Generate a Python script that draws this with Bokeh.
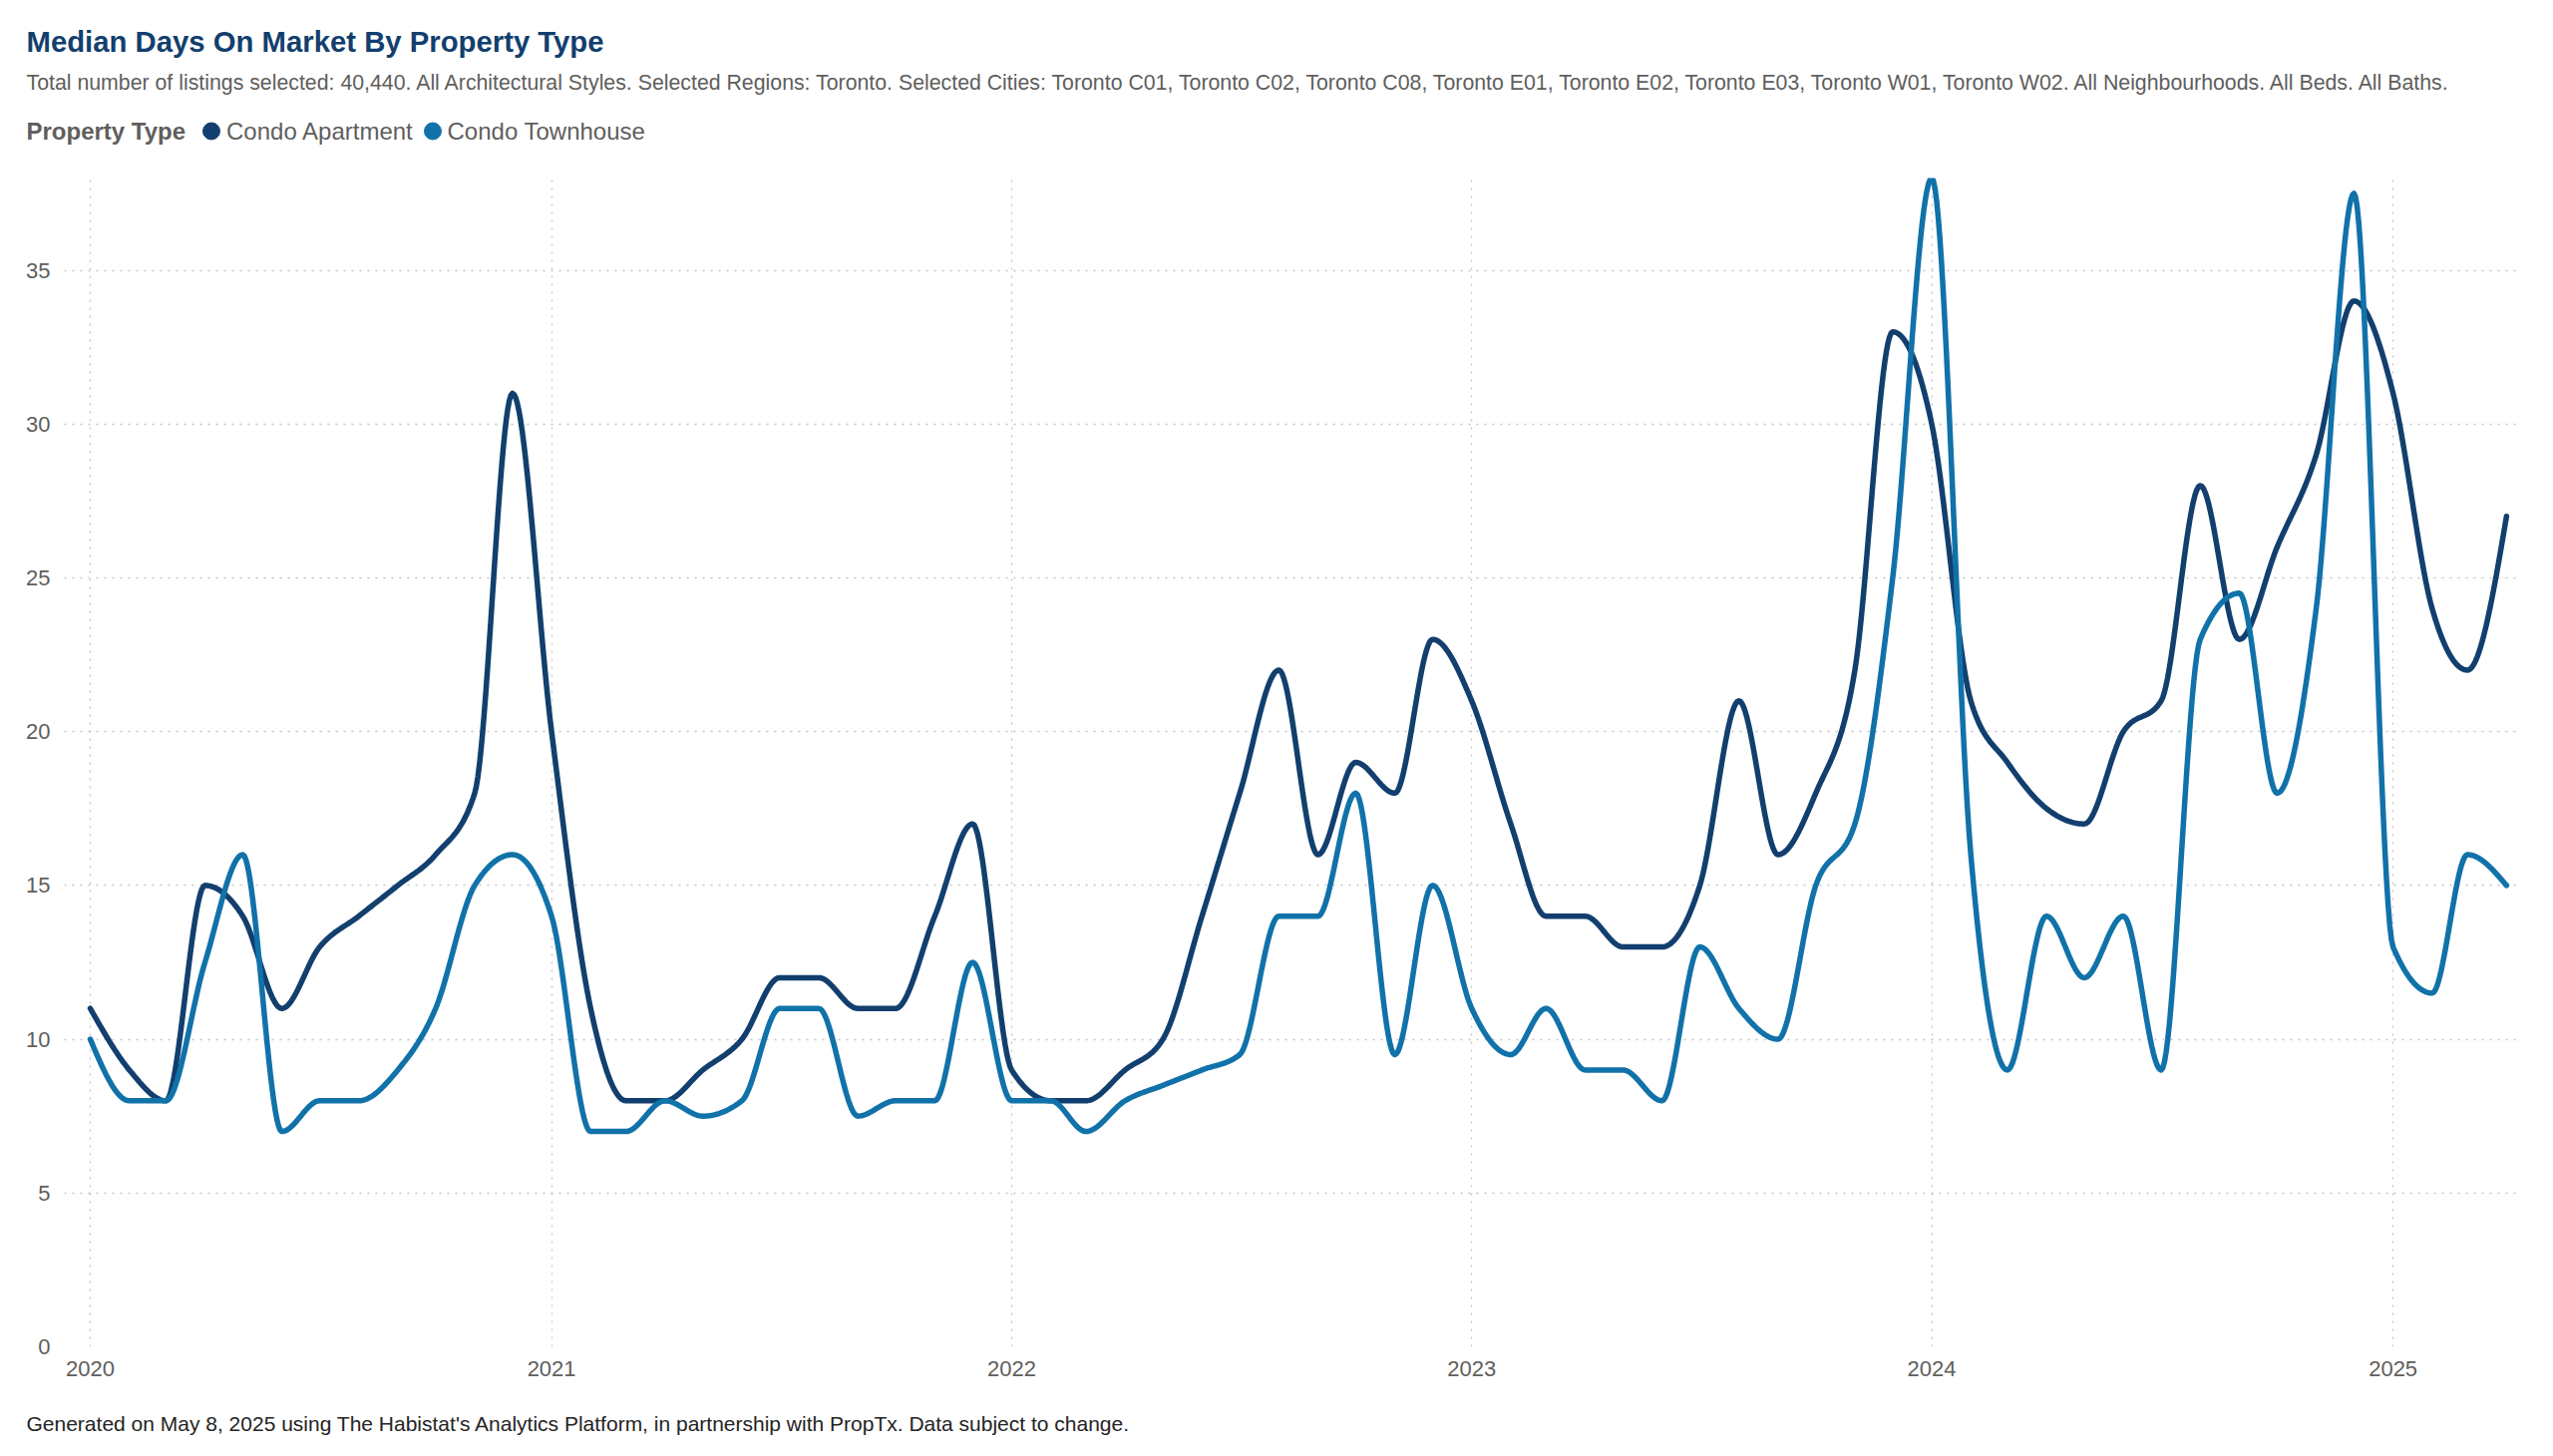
import numpy as np
import pandas as pd
from datetime import datetime
from bokeh.plotting import figure
from bokeh.models import Range1d, FixedTicker, DatetimeTickFormatter, ColumnDataSource
from bokeh.core.properties import value
from bokeh.embed import file_html
from bokeh.resources import INLINE

# ---------------- data ----------------
months = pd.date_range("2020-01-01", "2025-04-01", freq="MS")

condo_apartment = [
    11, 9, 8, 15, 14, 11, 13, 14, 15, 16, 18, 31,          # 2020
    20, 11, 8, 8, 9, 10, 12, 12, 11, 11, 14, 17,           # 2021
    9, 8, 8, 9, 10, 14, 18, 22, 16, 19, 18, 23,            # 2022
    21, 17, 14, 14, 13, 13, 15, 21, 16, 18, 22, 33,        # 2023
    30, 21, 19, 17.5, 17, 20, 21, 28, 23, 26, 29, 34,      # 2024
    31, 24, 22, 27,                                        # 2025
]
condo_townhouse = [
    10, 8, 8, 12.5, 16, 7, 8, 8, 9, 11, 15, 16,            # 2020
    14, 7, 7, 8, 7.5, 8, 11, 11, 7.5, 8, 8, 12.5,          # 2021
    8, 8, 7, 8, 8.5, 9, 9.5, 14, 14, 18, 9.5, 15,          # 2022
    11, 9.5, 11, 9, 9, 8, 13, 11, 10, 15, 17, 25,          # 2023
    38, 16, 9, 14, 12, 14, 9, 23, 24.5, 18, 24, 37.5,      # 2024
    13, 11.5, 16, 15,                                      # 2025
]
series_names = ["Condo Apartment", "Condo Townhouse"]
series_colors = ["#123F6E", "#1172A9"]
year_ticks = [datetime(y, 1, 1) for y in range(2020, 2026)]
y_ticks = [0, 5, 10, 15, 20, 25, 30, 35]

legend_title = "Property Type"
title_text = "Median Days On Market By Property Type"
subtitle_text = ("Total number of listings selected: 40,440. All Architectural Styles. "
                 "Selected Regions: Toronto. Selected Cities: Toronto C01, Toronto C02, "
                 "Toronto C08, Toronto E01, Toronto E02, Toronto E03, Toronto W01, "
                 "Toronto W02. All Neighbourhoods. All Beds. All Baths.")
footer_text = ("Generated on May 8, 2025 using The Habistat's Analytics Platform, "
               "in partnership with PropTx. Data subject to change.")

FONT = "Liberation Sans"
GRAY = "#605E5C"
W = 2550
HEAD_H = 170
MAIN_H = 1232
FOOT_H = 48


def smooth_monotone(xs, ys, n=24):
    """Monotone cubic (d3 curveMonotoneX style) rendering of a series."""
    x = np.asarray(xs, dtype=float)
    y = np.asarray(ys, dtype=float)
    h = np.diff(x)
    s = np.diff(y) / h
    m = len(x)
    t = np.zeros(m)
    for i in range(1, m - 1):
        h0, h1, s0, s1 = h[i - 1], h[i], s[i - 1], s[i]
        p = (s0 * h1 + s1 * h0) / (h0 + h1)
        sg0 = -1.0 if s0 < 0 else 1.0
        sg1 = -1.0 if s1 < 0 else 1.0
        t[i] = (sg0 + sg1) * min(abs(s0), abs(s1), 0.5 * abs(p))
    t[0] = (3 * s[0] - t[1]) / 2
    t[-1] = (3 * s[-1] - t[-2]) / 2
    ox, oy = [], []
    u = np.linspace(0, 1, n, endpoint=False)
    for i in range(m - 1):
        p0, p3 = y[i], y[i + 1]
        p1 = p0 + h[i] * t[i] / 3
        p2 = p3 - h[i] * t[i + 1] / 3
        by = (1 - u) ** 3 * p0 + 3 * (1 - u) ** 2 * u * p1 + 3 * (1 - u) * u ** 2 * p2 + u ** 3 * p3
        ox.extend(x[i] + u * h[i])
        oy.extend(by)
    ox.append(x[-1])
    oy.append(y[-1])
    return np.array(ox), np.array(oy)


def blank_fig(height):
    f = figure(width=W, height=height, output_backend="svg", toolbar_location=None,
               x_range=Range1d(0, W), y_range=Range1d(height, 0),
               x_axis_location=None, y_axis_location=None,
               min_border=0, min_border_left=0, min_border_right=0,
               min_border_top=0, min_border_bottom=0)
    f.grid.visible = False
    f.outline_line_color = None
    f.background_fill_color = "white"
    f.border_fill_color = "white"
    return f


def put_text(f, x, y, txt, size, color, style="normal"):
    f.text(x=[x], y=[y], text=[txt], text_font=value(FONT), text_font_size=size,
           text_color=color, text_font_style=style,
           text_baseline="middle", text_align="left")


# ---------------- header (title, subtitle, legend) ----------------
head = blank_fig(HEAD_H)
put_text(head, 26, 41, title_text, "29.3px", "#123F6E", "bold")
put_text(head, 26, 82, subtitle_text, "21.3px", GRAY)
put_text(head, 26, 131, legend_title, "24px", GRAY, "bold")
legend_marker_x = [211.5, 433.5]
legend_label_x = [226.5, 448]
head.scatter(x=legend_marker_x, y=[131, 131], marker="circle", size=17,
             fill_color=series_colors, line_color=series_colors)
for lx, name in zip(legend_label_x, series_names):
    put_text(head, lx, 131, name, "24px", GRAY)

# ---------------- main chart ----------------
p = figure(width=W, height=MAIN_H, x_axis_type="datetime",
           output_backend="svg", toolbar_location=None,
           x_range=Range1d(datetime(2019, 12, 11, 10), datetime(2025, 4, 9)),
           y_range=Range1d(0, 38),
           min_border_left=64, min_border_right=W - 2523,
           min_border_top=8, min_border_bottom=52)
p.title = None
p.outline_line_color = None
p.background_fill_color = "white"
p.border_fill_color = "white"

for ax in (p.xaxis[0], p.yaxis[0]):
    ax.axis_line_color = None
    ax.major_tick_line_color = None
    ax.minor_tick_line_color = None
    ax.major_tick_out = 0
    ax.major_tick_in = 0
    ax.major_label_text_font = FONT
    ax.major_label_text_font_size = "22px"
    ax.major_label_text_color = GRAY

p.xaxis.ticker = FixedTicker(ticks=[pd.Timestamp(d).value / 1e6 for d in year_ticks])
p.xaxis.formatter = DatetimeTickFormatter(years="%Y", months="%Y", days="%Y",
                                          hours="%Y", minutes="%Y", seconds="%Y",
                                          milliseconds="%Y", microseconds="%Y")
p.xaxis.major_label_standoff = 14
p.yaxis.ticker = FixedTicker(ticks=y_ticks)
p.yaxis.major_label_standoff = 14

p.xgrid.ticker = p.xaxis.ticker
p.ygrid.ticker = p.yaxis.ticker
for g in (p.xgrid[0], p.ygrid[0]):
    g.grid_line_color = "#C4C4C4"
    g.grid_line_dash = "2 6"
    g.grid_line_width = 1.3

xms = np.array([pd.Timestamp(d).value / 1e6 for d in months])
for name, vals, col in zip(series_names, [condo_apartment, condo_townhouse], series_colors):
    sx, sy = smooth_monotone(xms, vals)
    src = ColumnDataSource(dict(x=pd.to_datetime(sx, unit="ms"), y=sy))
    p.line("x", "y", source=src, line_color=col, line_width=5.5,
           line_join="round", line_cap="round")

# ---------------- footer ----------------
foot = blank_fig(FOOT_H)
put_text(foot, 26, 25, footer_text, "21px", "#252423")

# three independent roots stacked on the page (no frame alignment between them)
open("out.html", "w").write(file_html([head, p, foot], INLINE))
